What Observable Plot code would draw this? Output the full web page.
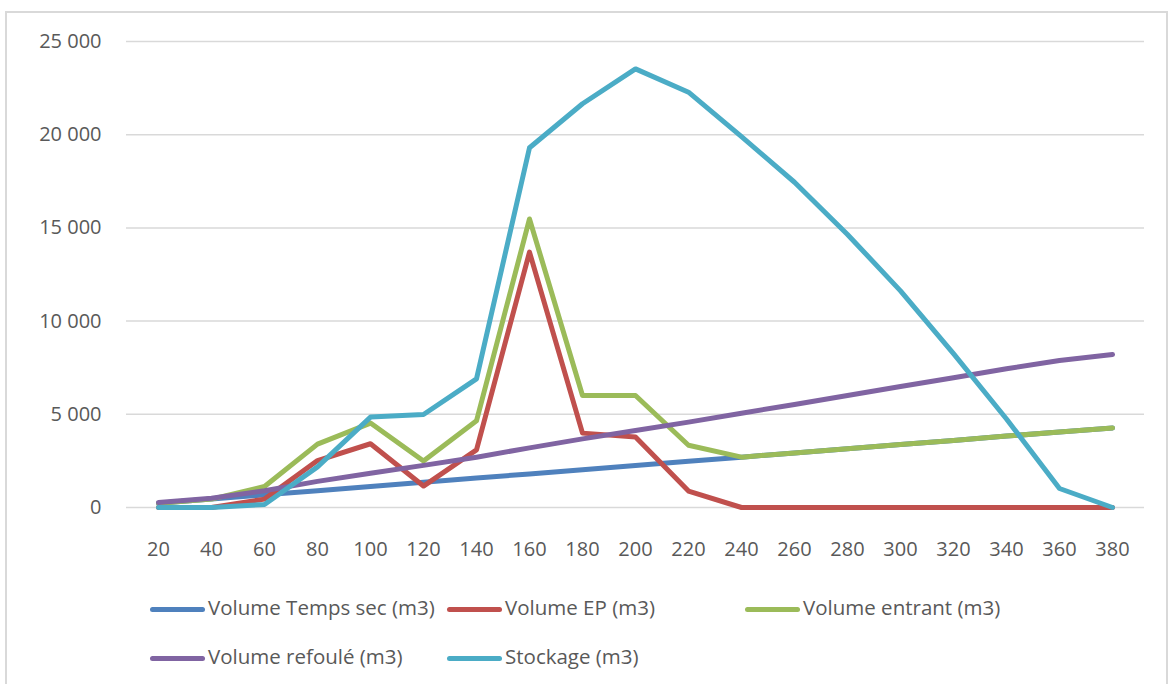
<!DOCTYPE html>
<html>
<head>
<meta charset="utf-8">
<script src="https://cdn.jsdelivr.net/npm/d3@7"></script>
<script src="https://cdn.jsdelivr.net/npm/@observablehq/plot@0.6"></script>
<style>
  html, body { margin: 0; padding: 0; background: #fff; width: 1170px; height: 684px; overflow: hidden; }
  #frame { position: absolute; left: 5px; top: 11px; width: 1163px; height: 720px; border: 2px solid #d9d9d9; box-sizing: border-box; }
  #chart { position: absolute; left: 0; top: 0; }
  .leg { position: absolute; font-family: "Open Sans", sans-serif; font-size: 20.5px; color: #595959; white-space: nowrap; line-height: 1; }
  .sw { position: absolute; height: 5px; border-radius: 3px; }
</style>
</head>
<body>
<div id="frame"></div>
<div id="chart"></div>
<div id="legend"></div>
<script>
const categories = [20, 40, 60, 80, 100, 120, 140, 160, 180, 200, 220, 240, 260, 280, 300, 320, 340, 360, 380];
const volumeTempsSec = [230, 450, 680, 900, 1130, 1350, 1580, 1800, 2030, 2250, 2480, 2700, 2930, 3150, 3380, 3600, 3830, 4050, 4270];
const volumeEP = [0, 0, 450, 2520, 3420, 1150, 3090, 13700, 3990, 3780, 880, 0, 0, 0, 0, 0, 0, 0, 0];
const volumeEntrant = [230, 450, 1130, 3400, 4530, 2490, 4650, 15480, 6010, 6010, 3340, 2700, 2930, 3150, 3380, 3600, 3830, 4050, 4270];
const volumeRefoule = [270, 500, 900, 1400, 1840, 2260, 2700, 3200, 3680, 4130, 4580, 5060, 5530, 6010, 6490, 6960, 7440, 7890, 8210];
const stockage = [0, 0, 160, 2180, 4850, 4990, 6900, 19300, 21660, 23530, 22280, 19900, 17450, 14650, 11620, 8250, 4750, 1020, 0];
const seriesNames = ["Volume Temps sec (m3)", "Volume EP (m3)", "Volume entrant (m3)", "Volume refoulé (m3)", "Stockage (m3)"];
const seriesColors = ["#4F81BD", "#C0504D", "#9BBB59", "#8064A2", "#4BACC6"];
const yTicks = [0, 5000, 10000, 15000, 20000, 25000];

const seriesValues = [volumeTempsSec, volumeEP, volumeEntrant, volumeRefoule, stockage];
const fmt = d => d3.format(",")(d).replace(/,/g, " ");

const lines = seriesValues.map((vals, k) =>
  Plot.line(categories.map((c, i) => ({x: c, y: vals[i]})), {
    x: "x", y: "y", stroke: seriesColors[k], strokeWidth: 5,
    strokeLinecap: "round", strokeLinejoin: "round"
  })
);

const chart = Plot.plot({
  width: 1170,
  height: 570,
  marginLeft: 126,
  marginRight: 26,
  marginTop: 41,
  marginBottom: 63,
  x: {type: "point", domain: categories, padding: 0.5, label: null},
  y: {domain: [0, 25000], label: null},
  style: {fontFamily: "Open Sans, sans-serif", fontSize: "20px", color: "#595959", background: "transparent"},
  marks: [
    Plot.ruleY(yTicks, {stroke: "#d9d9d9", strokeWidth: 1.5}),
    Plot.axisY(yTicks, {tickSize: 0, tickPadding: 25, tickFormat: fmt}),
    Plot.axisX({tickSize: 0, tickPadding: 34}),
    ...lines
  ]
});
document.getElementById("chart").appendChild(chart);

// legend
const legendPos = [[150, 609], [447, 609], [745, 609], [150, 658], [447, 658]];
const legend = document.getElementById("legend");
seriesNames.forEach((name, k) => {
  const [lx, ly] = legendPos[k];
  const sw = document.createElement("div");
  sw.className = "sw";
  sw.style.left = lx + "px";
  sw.style.top = (ly - 2.5) + "px";
  sw.style.width = "55px";
  sw.style.background = seriesColors[k];
  legend.appendChild(sw);
  const t = document.createElement("div");
  t.className = "leg";
  t.style.left = (lx + 58) + "px";
  t.style.top = (ly - 12) + "px";
  t.textContent = name;
  legend.appendChild(t);
});
</script>
</body>
</html>
